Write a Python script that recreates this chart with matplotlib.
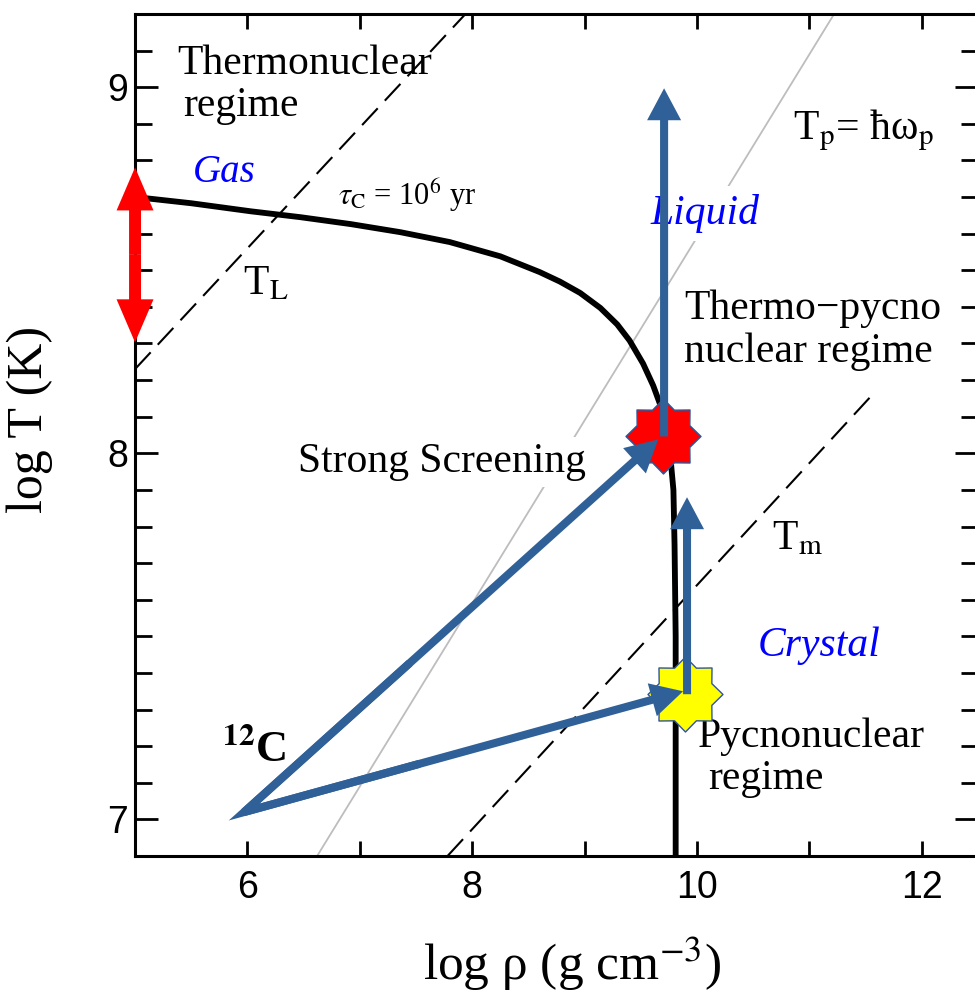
import numpy as np
import matplotlib
matplotlib.use('Agg')
import matplotlib.pyplot as plt
from matplotlib.patches import FancyArrowPatch
from matplotlib.path import Path

plt.rcParams['font.family'] = ['Liberation Serif', 'DejaVu Serif']
plt.rcParams['mathtext.fontset'] = 'stix'

# tau_C = 1e6 yr ignition curve (log rho, log T)
curve_rho = [5.00, 5.50, 6.03, 6.47, 6.92, 7.36, 7.80, 8.25, 8.60, 8.78, 8.96, 9.14,
             9.29, 9.40, 9.52, 9.61, 9.67, 9.72, 9.76, 9.79, 9.80, 9.81, 9.81]
curve_T = [8.700, 8.683, 8.661, 8.645, 8.626, 8.604, 8.577, 8.538, 8.495, 8.469, 8.438, 8.397,
           8.352, 8.308, 8.245, 8.185, 8.135, 8.075, 8.000, 7.900, 7.750, 7.500, 6.900]

# characteristic temperatures
TL_rho, TL_T = [5.00, 7.94], [8.23, 9.20]     # T_L
Tm_rho, Tm_T = [7.78, 11.56], [6.90, 8.16]    # T_m
Tp_rho, Tp_T = [6.62, 11.22], [6.90, 9.20]    # T_p = hbar omega_p

# 12C path
c12_start = (5.97, 7.02)
red_star = (9.698, 8.046)
yellow_star = (9.893, 7.342)
diag_tips = [(9.655, 8.038), (9.876, 7.350)]
vert_arrows = [((9.707, 8.046), (9.707, 8.997)),
               ((9.911, 7.342), (9.911, 7.880))]
# red double arrow on the left edge
red_arrow_x = 5.0
red_arrow_T = [8.303, 8.781]

BLUE = '#2F6097'

fig = plt.figure(figsize=(9.75, 9.91), dpi=100)
ax = fig.add_axes([0.1385, 0.1362, 0.8646, 0.8497])
ax.set_xlim(5, 12.5)
ax.set_ylim(6.9, 9.2)

ax.plot(Tp_rho, Tp_T, color='#bdbdbd', lw=1.3, zorder=1)
ax.plot(TL_rho, TL_T, color='k', lw=1.5, dashes=(11, 5), zorder=2)
ax.plot(Tm_rho, Tm_T, color='k', lw=1.5, dashes=(11, 5), zorder=2)
ax.plot(curve_rho, curve_T, color='k', lw=4.2, solid_capstyle='butt',
        solid_joinstyle='round', zorder=4)

star8 = Path.unit_regular_star(8, innerCircle=0.76)
ax.plot(*red_star, marker=star8, ms=54, mfc='red', mec='#2F5597', mew=1, zorder=5)
ax.plot(*yellow_star, marker=star8, ms=54, mfc='yellow', mec='#2F5597', mew=1, zorder=5)

arrow_style = 'simple,head_length=23,head_width=24.5,tail_width=5.8'
s = np.array(c12_start)
for tip in diag_tips:
    ax.add_patch(FancyArrowPatch(c12_start, tip, arrowstyle=arrow_style, mutation_scale=1,
                                 color=BLUE, lw=0, shrinkA=0, shrinkB=0, zorder=6))
# sharp corner at the starting point
mids = [s + 0.4 * (np.array(t) - s) for t in diag_tips]
ax.plot([mids[0][0], s[0], mids[1][0]], [mids[0][1], s[1], mids[1][1]],
        color=BLUE, lw=5.8, solid_joinstyle='miter', solid_capstyle='butt', zorder=6)
for a, b in vert_arrows:
    ax.add_patch(FancyArrowPatch(a, b, arrowstyle=arrow_style, mutation_scale=1,
                                 color=BLUE, lw=0, shrinkA=0, shrinkB=0, zorder=6))

red_mid = 0.5 * (red_arrow_T[0] + red_arrow_T[1])
for end in red_arrow_T:
    ax.add_patch(FancyArrowPatch((red_arrow_x, red_mid), (red_arrow_x, end),
                                 arrowstyle='simple,head_length=31,head_width=26.6,tail_width=8.6',
                                 mutation_scale=1, color='red', lw=0, shrinkA=0, shrinkB=0,
                                 clip_on=False, zorder=7))

# labels
ax.text(5.378, 9.036, 'Thermonuclear', fontsize=30)
ax.text(5.431, 8.921, 'regime', fontsize=30)
ax.text(5.511, 8.740, 'Gas', fontsize=28, color='blue', style='italic')
ax.text(6.809, 8.680, r'$\tau_{\mathrm{C}}$ = 10$^{6}$ yr', fontsize=22)
ax.text(5.964, 8.434, r'T$_{\mathrm{L}}$', fontsize=30)
ax.text(6.453, 7.948, 'Strong Screening', fontsize=30, zorder=3,
        bbox=dict(facecolor='white', edgecolor='none', pad=4))
ax.text(9.582, 8.626, 'Liquid', fontsize=30, color='blue', style='italic', zorder=3,
        bbox=dict(facecolor='white', edgecolor='none', pad=6))
ax.text(10.853, 8.858, r'T$_{\mathrm{p}}$= ħω$_{\mathrm{p}}$', fontsize=30)
ax.text(9.884, 8.366, 'Thermo\u2212pycno', fontsize=30)
ax.text(9.884, 8.249, 'nuclear regime', fontsize=30)
ax.text(10.667, 7.738, r'T$_{\mathrm{m}}$', fontsize=30)
ax.text(10.542, 7.445, 'Crystal', fontsize=30, color='blue', style='italic')
ax.text(10.009, 7.199, 'Pycnonuclear', fontsize=30)
ax.text(10.098, 7.082, 'regime', fontsize=30)
ax.text(5.778, 7.156, r'$^{\mathbf{12}}$C', fontsize=32, fontweight='bold')

# axes styling
for sp in ax.spines.values():
    sp.set_linewidth(2.2)
ax.set_xticks([6, 8, 10, 12])
ax.set_xticks(np.arange(5, 13), minor=True)
ax.set_yticks([7, 8, 9])
ax.set_yticks(np.arange(6.9, 9.21, 0.1), minor=True)
ax.tick_params(which='both', direction='in', top=True, right=True, width=2)
ax.tick_params(axis='x', which='both', length=11, pad=10)
ax.tick_params(axis='y', which='major', length=16.5, pad=5)
ax.tick_params(axis='y', which='minor', length=12)
for lab in ax.get_xticklabels() + ax.get_yticklabels():
    lab.set_fontfamily('Liberation Sans')
    lab.set_fontsize(27)

ax.set_xlabel(r'log ρ (g cm$^{-3}$)', fontsize=37)
ax.xaxis.label.set_va('baseline')
ax.xaxis.set_label_coords(0.518, -0.147)
ax.set_ylabel('log T (K)', fontsize=36)
ax.yaxis.set_label_coords(-0.097, 0.519)

fig.savefig('out.png', dpi=100)
